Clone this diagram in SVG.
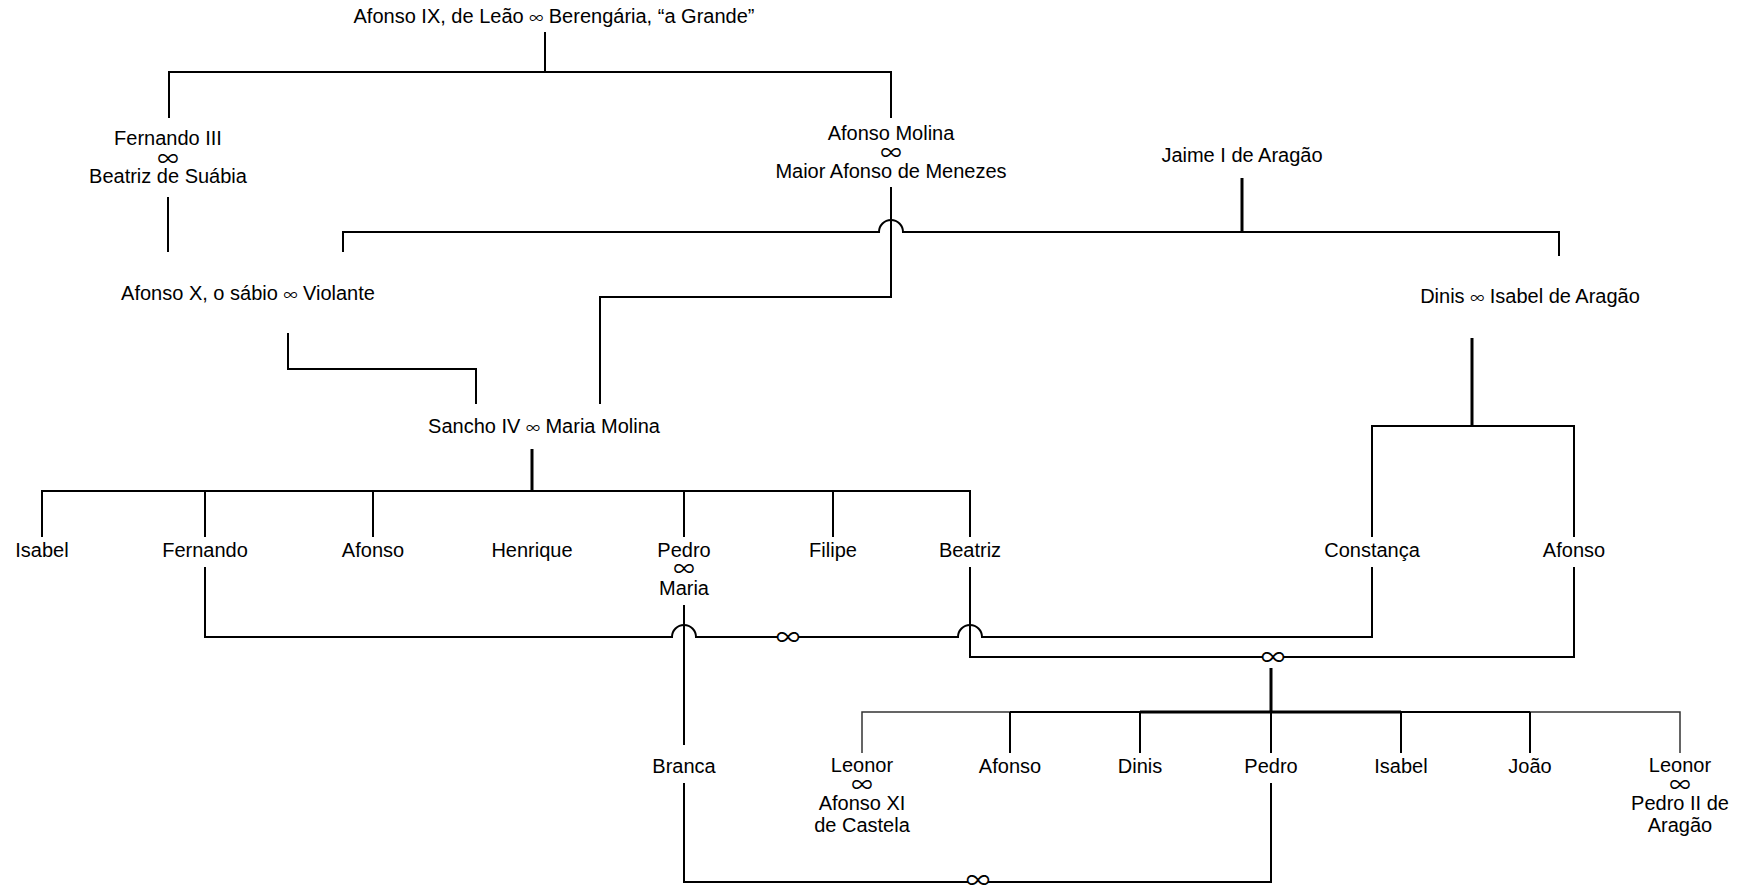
<svg xmlns="http://www.w3.org/2000/svg" width="1757" height="890" viewBox="0 0 1757 890">
<style>
text{font-family:"Liberation Sans",Arial,sans-serif;font-size:20px;fill:#000;text-anchor:middle}
.i{font-family:"Noto Sans CJK JP","Liberation Sans",sans-serif;font-size:14px}
.li{font-family:"Noto Sans CJK JP","Liberation Sans",sans-serif;font-size:21px}
.ci{font-family:"Noto Sans CJK JP","Liberation Sans",sans-serif;font-size:24px}
.c{fill:none;stroke:#000;stroke-width:2}
.t{stroke-width:3}
.th{stroke-width:1.5;stroke:#333}
</style>
<rect width="1757" height="890" fill="#fff"/>
<g id="connectors">
<path class="c" d="M545 32V72M169 118V72H891V118"/>
<path class="c" d="M168 197V252"/>
<path class="c" d="M343 252V232H879A12 12 0 0 1 903 232H1559V256"/>
<path class="c t" d="M1242 178V232"/>
<path class="c" d="M891 187V297H600V404"/>
<path class="c" d="M288 333V369H476V404"/>
<path class="c t" d="M532 449V491"/>
<path class="c" d="M42 537V491H970V537M205 491V537M373 491V537M684 491V537M833 491V537"/>
<path class="c t" d="M1472 338V426"/>
<path class="c" d="M1372 537V426H1574V537"/>
<path class="c" d="M205 567V637H672A12 12 0 0 1 696 637H778M798 637H958A12 12 0 0 1 982 637H1372V567"/>
<path class="c" d="M684 605V745"/>
<path class="c" d="M970 567V657H1263M1283 657H1574V567"/>
<path class="c t" d="M1271 668V712"/>
<path class="c th" d="M862 753V712H1680V753"/>
<path class="c" d="M1010 712H1530"/>
<path class="c t" d="M1140 712H1401"/>
<path class="c" d="M1010 712V753M1140 712V753M1271 712V753M1401 712V753M1530 712V753"/>
<path class="c" d="M684 783V882H968M988 882H1271V783"/>
<text class="ci" x="788" y="646">∞</text>
<text class="ci" x="1273" y="666">∞</text>
<text class="ci" x="978" y="889">∞</text>
</g>
<g id="n-afonso9"><text x="554" y="23">Afonso IX, de Leão <tspan class="i">∞</tspan> Berengária, “a Grande”</text></g>
<g id="n-fernando3"><text x="168" y="145">Fernando III<tspan class="li" x="168" y="166">∞</tspan><tspan x="168" y="183">Beatriz de Suábia</tspan></text></g>
<g id="n-molina"><text x="891" y="140">Afonso Molina<tspan class="li" x="891" y="160">∞</tspan><tspan x="891" y="178">Maior Afonso de Menezes</tspan></text></g>
<g id="n-jaime"><text x="1242" y="162">Jaime I de Aragão</text></g>
<g id="n-afonso10"><text x="248" y="300">Afonso X, o sábio <tspan class="i">∞</tspan> Violante</text></g>
<g id="n-dinis"><text x="1530" y="303">Dinis <tspan class="i">∞</tspan> Isabel de Aragão</text></g>
<g id="n-sancho"><text x="544" y="433">Sancho IV <tspan class="i">∞</tspan> Maria Molina</text></g>
<g id="n-isabel1"><text x="42" y="557">Isabel</text></g>
<g id="n-fernando"><text x="205" y="557">Fernando</text></g>
<g id="n-afonso1"><text x="373" y="557">Afonso</text></g>
<g id="n-henrique"><text x="532" y="557">Henrique</text></g>
<g id="n-pedro1"><text x="684" y="557">Pedro<tspan class="li" x="684" y="576">∞</tspan><tspan x="684" y="595">Maria</tspan></text></g>
<g id="n-filipe"><text x="833" y="557">Filipe</text></g>
<g id="n-beatriz"><text x="970" y="557">Beatriz</text></g>
<g id="n-constanca"><text x="1372" y="557">Constança</text></g>
<g id="n-afonso2"><text x="1574" y="557">Afonso</text></g>
<g id="n-branca"><text x="684" y="773">Branca</text></g>
<g id="n-leonor1"><text x="862" y="772">Leonor<tspan class="li" x="862" y="792">∞</tspan><tspan x="862" y="810">Afonso XI</tspan><tspan x="862" y="832">de Castela</tspan></text></g>
<g id="n-afonso3"><text x="1010" y="773">Afonso</text></g>
<g id="n-dinis2"><text x="1140" y="773">Dinis</text></g>
<g id="n-pedro2"><text x="1271" y="773">Pedro</text></g>
<g id="n-isabel2"><text x="1401" y="773">Isabel</text></g>
<g id="n-joao"><text x="1530" y="773">João</text></g>
<g id="n-leonor2"><text x="1680" y="772">Leonor<tspan class="li" x="1680" y="792">∞</tspan><tspan x="1680" y="810">Pedro II de</tspan><tspan x="1680" y="832">Aragão</tspan></text></g>
</svg>
